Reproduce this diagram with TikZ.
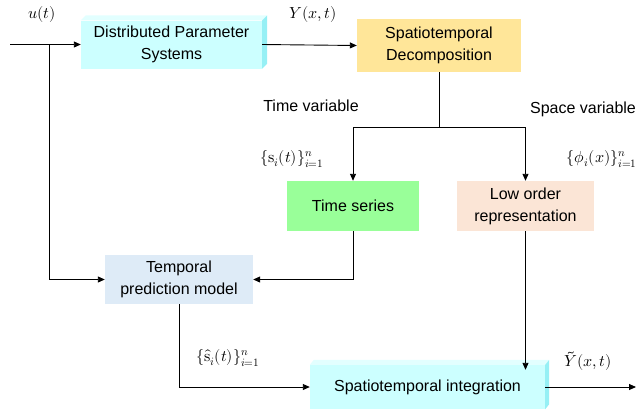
\documentclass[tikz,border=0pt]{standalone}
\usepackage{fontspec}
\setmainfont{Liberation Sans}
\usepackage{unicode-math}
\setmathfont{Latin Modern Math}
\usetikzlibrary{arrows.meta}
\definecolor{cyanfront}{RGB}{204,255,255}
\definecolor{cyantop}{RGB}{226,255,255}
\definecolor{cyanside}{RGB}{150,240,245}
\definecolor{decompfill}{RGB}{255,230,153}
\definecolor{seriesfill}{RGB}{153,255,153}
\definecolor{lowfill}{RGB}{251,229,214}
\definecolor{predfill}{RGB}{222,235,247}
\tikzset{
  blockbox/.style={draw=none, inner sep=0pt, align=center, font=\fontsize{16}{22}\selectfont},
  mathlbl/.style={inner sep=0pt, font=\fontsize{16}{19}\selectfont},
  txtlbl/.style={inner sep=0pt, font=\fontsize{16}{19}\selectfont},
  conn/.style={line width=0.9pt, -{Triangle[length=7pt,width=6pt]}},
  plain/.style={line width=0.9pt},
}
\begin{document}
\begin{tikzpicture}[x=1pt,y=-1pt]
\useasboundingbox (0,0) rectangle (642,413);

% Distributed parameter systems (raised box)
\node[blockbox, fill=cyanfront, minimum width=181pt, minimum height=48pt] (dps) at (171.5,44.5) {Distributed Parameter\\Systems};
\fill[cyantop] (dps.north west) -- ++(5,-5) -- ([shift={(5,-5)}]dps.north east) -- (dps.north east) -- cycle;
\fill[cyanside] (dps.north east) -- ++(5,-5) -- ([shift={(5,-5)}]dps.south east) -- (dps.south east) -- cycle;

% Spatiotemporal decomposition
\node[blockbox, fill=decompfill, minimum width=164pt, minimum height=53pt] (dec) at (439,45.5) {Spatiotemporal\\Decomposition};

% Time series and low order representation
\node[blockbox, fill=seriesfill, minimum width=132pt, minimum height=50pt] (ts) at (353,206) {Time series};
\node[blockbox, fill=lowfill, minimum width=137pt, minimum height=50pt] (low) at (525.5,206) {Low order\\representation};

% Temporal prediction model
\node[blockbox, fill=predfill, minimum width=148pt, minimum height=49pt] (pred) at (179,279.5) {Temporal\\prediction model};

% Spatiotemporal integration (raised box)
\node[blockbox, fill=cyanfront, minimum width=235pt, minimum height=44pt] (int) at (427.5,387) {Spatiotemporal integration};
\fill[cyantop] (int.north west) -- ++(4,-5) -- ([shift={(4,-5)}]int.north east) -- (int.north east) -- cycle;
\fill[cyanside] (int.north east) -- ++(4,-5) -- ([shift={(4,-5)}]int.south east) -- (int.south east) -- cycle;

% Auxiliary points of the connectors
\coordinate (uin) at (10,44.5);
\coordinate (ubr) at (49,44.5);
\coordinate (split) at (439,127);
\coordinate (yout) at (636,387);
\coordinate (lowend) at ([yshift=-5pt]low.south |- int.north);

% Connectors
\draw[conn] (uin) -- (dps.west);
\draw[conn] (ubr) |- (pred.west);
\draw[conn] (dps.east) -- (dec.west);
\draw[plain] (dec.south) -- (split);
\draw[conn] (split) -| (ts.north);
\draw[conn] (split) -| (low.north);
\draw[conn] (ts.south) |- (pred.east);
\draw[conn] (low.south) -- (lowend);
\draw[conn] (pred.south) |- (int.west);
\draw[conn] (int.east) -- (yout);

% Labels
\node[mathlbl] (lu) at (42,14) {$u(t)$};
\node[mathlbl] (ly) at (313,14) {$Y(x,t)$};
\node[txtlbl] (ltime) at (311,106) {Time variable};
\node[txtlbl] (lspace) at (583,109) {Space variable};
\node[mathlbl] (ls) at (292,159) {$\{\symup{s}_i(t)\}_{i=1}^{n}$};
\node[mathlbl] (lphi) at (602,159) {$\{\phi_i(x)\}_{i=1}^{n}$};
\node[mathlbl] (lsh) at (228,358) {$\{\hat{\symup{s}}_i(t)\}_{i=1}^{n}$};
\node[mathlbl] (lyt) at (588,361) {$\tilde{Y}(x,t)$};
\end{tikzpicture}
\end{document}
